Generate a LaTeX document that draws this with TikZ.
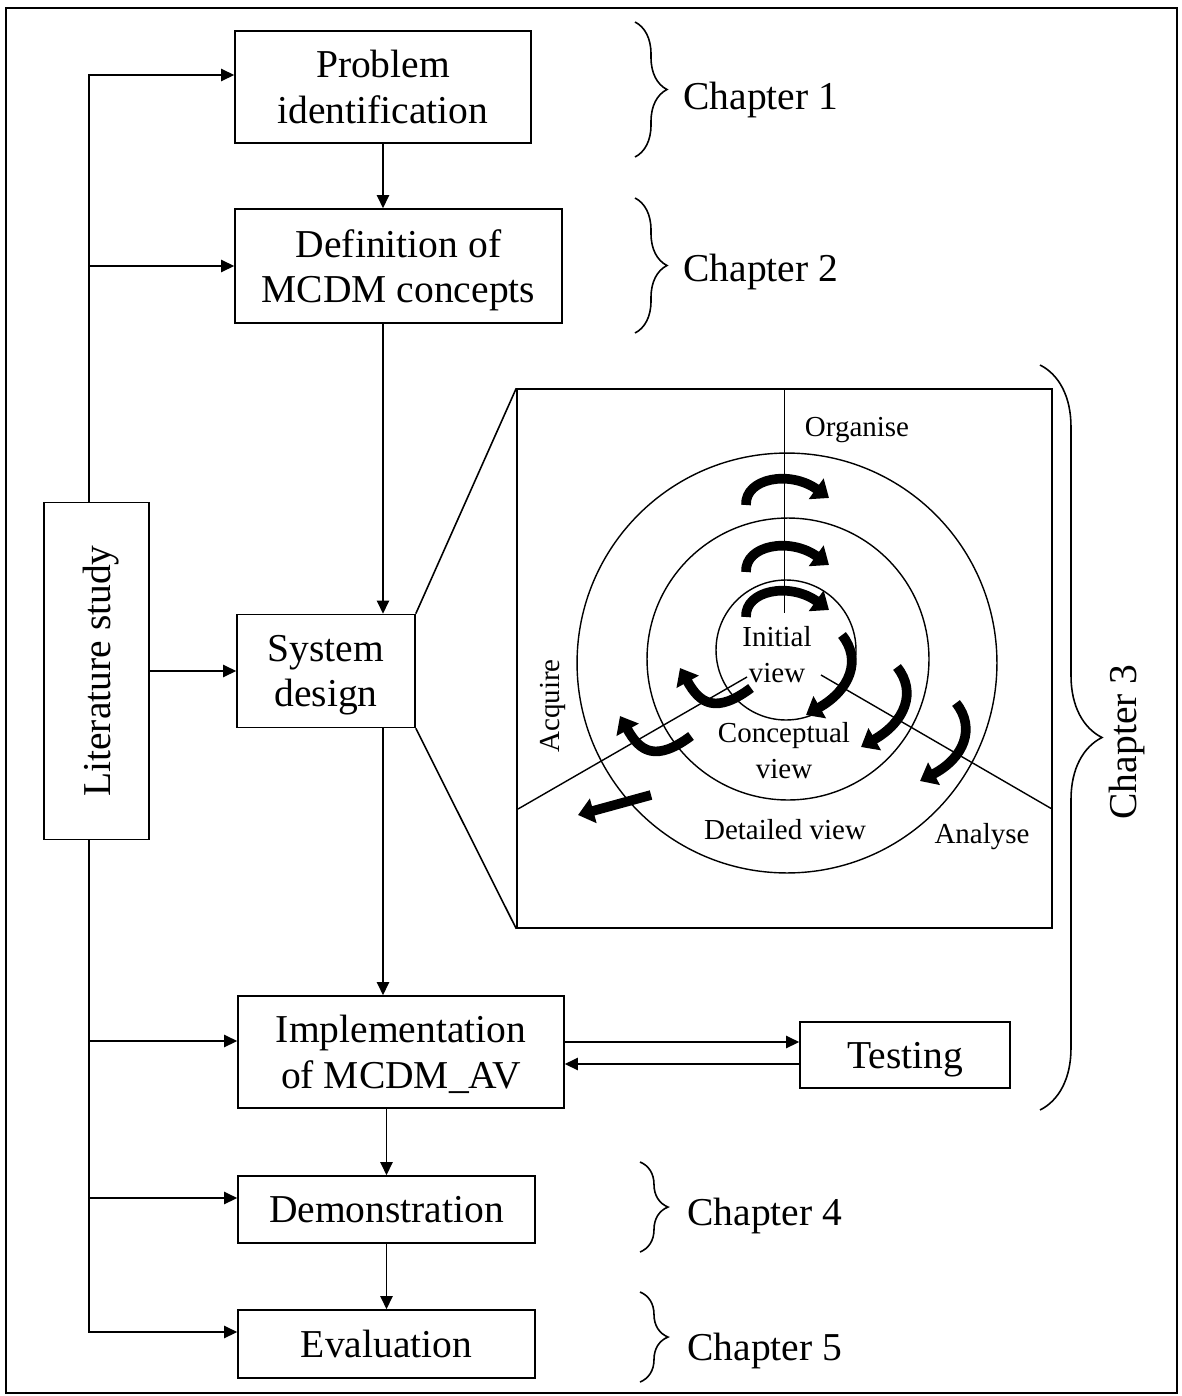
\documentclass[tikz,border=0pt]{standalone}
\usepackage{fontspec}
\setmainfont{Liberation Serif}
\usetikzlibrary{arrows.meta}
\tikzset{>={Triangle[length=7.5pt,width=7pt]}}
\usetikzlibrary{calc,positioning,decorations.pathreplacing}
\tikzstyle{stage} = [rectangle, draw=black, line width=0.9pt, fill=white, inner sep=0pt, text depth=0pt, align=center, font=\fontsize{22.5}{26}\selectfont]
\tikzstyle{flow} = [line width=0.9pt, ->]
\tikzstyle{chap} = [anchor=west, inner sep=0pt, text depth=0pt, font=\fontsize{22.5}{26}\selectfont]
\tikzstyle{chapbrace} = [decorate, line width=0.9pt]
\tikzstyle{ring} = [line width=0.8pt]
\tikzstyle{viewlbl} = [align=center, inner sep=0pt, font=\fontsize{16.5}{20.5}\selectfont]
\tikzstyle{turn} = [line width=5.5pt, -{Triangle[length=9pt,width=14pt]}]

\begin{document}
\begin{tikzpicture}[x=0.02cm, y=-0.02cm]
\useasboundingbox (0,0) rectangle (1182,1396);
\draw[line width=0.9pt] (6,8) rectangle (1177,1393);

% stages of the study
\node (prob) [stage, minimum width=5.92cm, minimum height=2.24cm] at (383,87) {Problem\\identification};
\node (defn) [stage, minimum width=6.54cm, minimum height=2.28cm] at (398.5,266) {Definition of\\MCDM concepts};
\node (sysd) [stage, minimum width=3.56cm, minimum height=2.26cm] at (326,671) {System\\design};
\node (impl) [stage, minimum width=6.52cm, minimum height=2.24cm] at (401,1052) {Implementation\\of MCDM\_AV};
\node (test) [stage, minimum width=4.2cm, minimum height=1.32cm] at (905,1055) {Testing};
\node (demo) [stage, minimum width=5.94cm, minimum height=1.34cm] at (386.5,1209.5) {Demonstration};
\node (eval) [stage, minimum width=5.94cm, minimum height=1.36cm] at (386.5,1344) {Evaluation};
\node (lit) [stage, rotate=90, minimum width=6.74cm, minimum height=2.1cm] at (96.5,671) {Literature study};

% literature study feeds every stage
\coordinate (spine) at (89,0);
\coordinate (inP) at ([yshift=0.24cm]prob.west);
\coordinate (inI) at ([yshift=0.22cm]impl.west);
\coordinate (inD) at ([yshift=0.23cm]demo.west);
\coordinate (inE) at ([yshift=0.24cm]eval.west);
\draw[flow] (lit.east -| spine) |- (inP);
\draw[flow] (spine |- defn.west) -- (defn.west);
\draw[flow] (lit.south) -- (sysd.west);
\draw[flow] (lit.west -| spine) |- (inE);
\draw[flow] (spine |- inI) -- (inI);
\draw[flow] (spine |- inD) -- (inD);

% main sequence
\draw[flow] (prob.south) -- (prob.south |- defn.north);
\draw[flow] (prob.south |- defn.south) -- (prob.south |- sysd.north);
\draw[flow] (prob.south |- sysd.south) -- (prob.south |- impl.north);
\draw[flow] (demo.north |- impl.south) -- (demo.north);
\draw[flow] (demo.south) -- (eval.north);
\draw[flow] ([yshift=0.2cm]impl.east) -- ([yshift=0.2cm]impl.east -| test.west);
\draw[flow] ([yshift=-0.18cm]test.west) -- ([yshift=-0.18cm]test.west -| impl.east);

% zoomed view of the system design
\node (zoom) [draw, line width=0.9pt, minimum width=10.7cm, minimum height=10.78cm, inner sep=0pt] at (784.5,658.5) {};
\draw[line width=0.9pt] (sysd.north east) -- (zoom.north west);
\draw[line width=0.9pt] (sysd.south east) -- (zoom.south west);

\draw[ring] (786,650) circle[radius=1.4cm];
\draw[ring] (788,659) circle[radius=2.82cm];
\draw[ring] (787,663) circle[radius=4.2cm];
\draw[ring] (zoom.north) -- (784.5,613);
\draw[ring] (747,677) -- (518,809);
\draw[ring] (821,675) -- (1052,809);

\node (org) [viewlbl] at (857,430) {Organise};
\node (initv) [viewlbl] at (777,655) {Initial\\view};
\node (concv) [viewlbl] at (784,751) {Conceptual\\view};
\node (detv) [viewlbl] at (785,830) {Detailed view};
\node (anl) [viewlbl] at (982,837) {Analyse};
\node (acq) [viewlbl, rotate=90] at (553,706) {Acquire};

% organise
\draw[turn] (746,505) .. controls (745,478) and (790,470) .. (829,498);
\draw[turn] (746,572) .. controls (745,545) and (790,537) .. (829,565);
\draw[turn] (746,617) .. controls (745,590) and (790,582) .. (829,610);
% analyse
\draw[turn] (842,635) .. controls (862,660) and (850,690) .. (806,715);
\draw[turn] (897,667) .. controls (917,692) and (905,722) .. (861,747);
\draw[turn] (956,703) .. controls (976,728) and (964,758) .. (920,781);
% acquire
\draw[turn] (751,688) .. controls (716,714) and (700,704) .. (680,668);
\draw[turn] (691,736) .. controls (656,762) and (640,752) .. (620,716);
\draw[turn] (651,795) -- (578,815);

% chapters
\draw[chapbrace, decoration={brace, amplitude=0.64cm}] (635,22) -- (635,157);
\draw[chapbrace, decoration={brace, amplitude=0.64cm}] (635,198) -- (635,333);
\draw[chapbrace, decoration={brace, amplitude=1.24cm}] (1040,365) -- (1040,1110);
\draw[chapbrace, decoration={brace, amplitude=0.56cm}] (640,1162) -- (640,1252);
\draw[chapbrace, decoration={brace, amplitude=0.56cm}] (640,1292) -- (640,1382);
\node (ch1) [chap] at (683,96) {Chapter 1};
\node (ch2) [chap] at (683,268) {Chapter 2};
\node (ch3) [chap, anchor=center, rotate=90] at (1123,742) {Chapter 3};
\node (ch4) [chap] at (687,1212) {Chapter 4};
\node (ch5) [chap] at (687,1347) {Chapter 5};
\end{tikzpicture}
\end{document}
